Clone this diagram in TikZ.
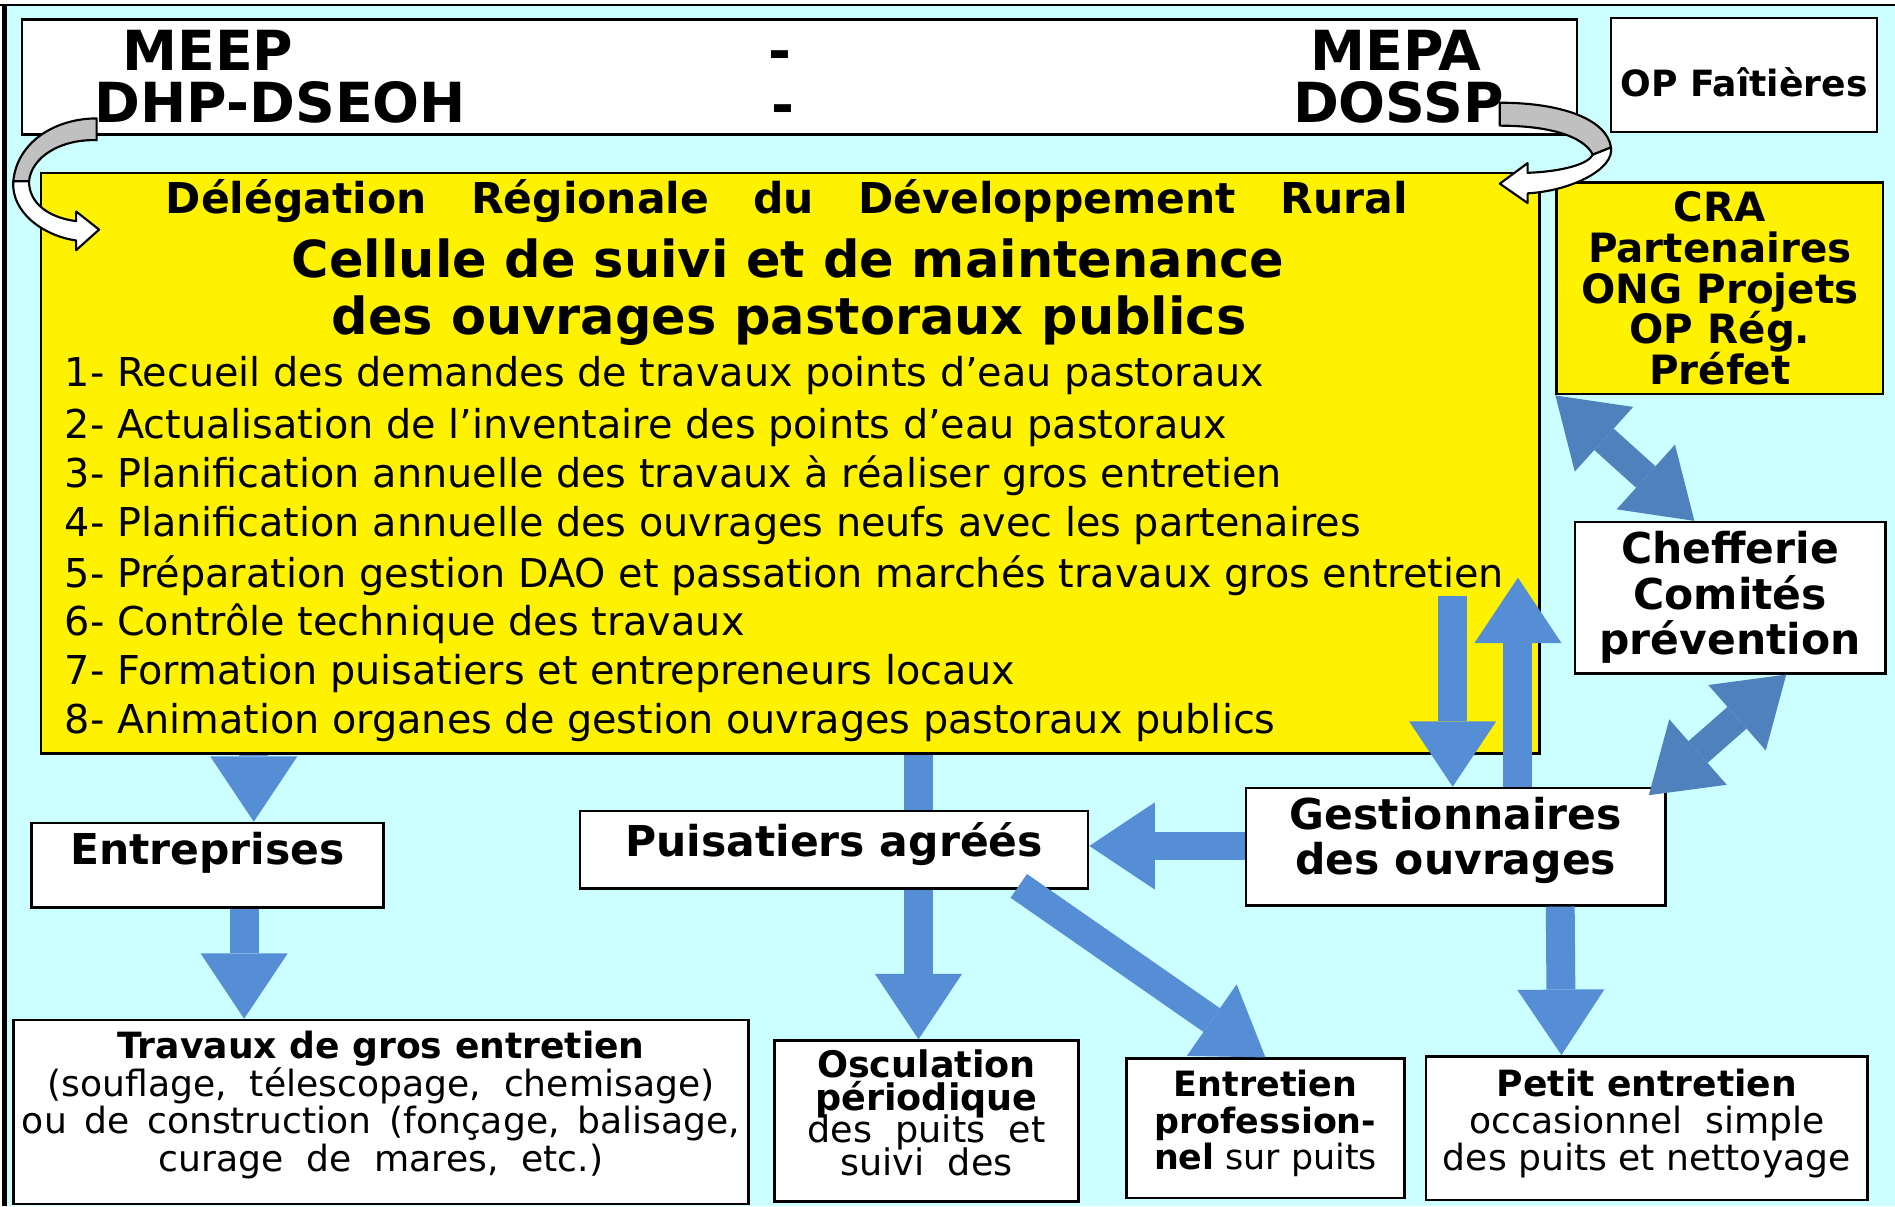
\documentclass[tikz,border=0pt]{standalone}
\usepackage{fontspec}
\setmainfont{DejaVu Sans}
\usepackage{tikz}
\usetikzlibrary{arrows.meta, calc}
\definecolor{fond}{HTML}{CCFFFF}
\definecolor{bleu}{HTML}{558ED5}
\definecolor{bleuf}{HTML}{4F81BD}
\definecolor{gris}{HTML}{C0C0C0}
\lineskiplimit=-20pt

\begin{document}
\begin{tikzpicture}[x=0.01cm, y=-0.01cm,
    box/.style={draw, line width=0.6pt, fill=white, inner sep=0pt, align=center},
    jbox/.style={box, fill=yellow},
    big/.style={font=\fontsize{13}{15}\selectfont\bfseries},
    ttl/.style={font=\fontsize{12}{14}\selectfont\bfseries},
    itm/.style={anchor=west, inner sep=0pt, font=\fontsize{9.35}{11}\selectfont},
    fl/.style={draw=bleu, line width=6.8pt,
      -{Triangle[length=15.4pt, width=20.5pt, line width=0pt]}},
    fll/.style={draw=bleuf, line width=6.8pt,
      {Triangle[length=15.4pt, width=20.5pt, line width=0pt]}-{Triangle[length=15.4pt, width=20.5pt, line width=0pt]}},
    cbe/.style={draw=black, line width=0.5pt, line join=round}]

  \useasboundingbox (0,0) rectangle (1568,998);
  \fill[fond] (3,4) rectangle (1568,998);
  \draw[line width=0.6pt] (0,4) -- (1568,4);
  \draw[line width=1.1pt] (4,4) -- (4,998);

  \node[box, minimum width=12.86cm, minimum height=0.95cm, anchor=north west] (mn) at (17,15) {};
  \node[big] (meep) at (172,42) {MEEP};
  \node[big] (t1) at (645,50) {-};
  \node[big] (mepa) at (1155,42) {MEPA};
  \node[big] (dhp) at (232,85) {DHP-DSEOH};
  \node[big] (t2) at (648,95) {-};
  \node[big] (dossp) at (1157,85) {DOSSP};

  \node[box, minimum width=2.20cm, minimum height=0.94cm, anchor=north west, text height=10pt,
    font=\fontsize{8.5}{10}\selectfont\bfseries] (opf) at (1332,14) {OP Faîtières};

  \node[jbox, minimum width=12.39cm, minimum height=4.80cm, anchor=north west] (cel) at (33,142) {};
  \node[font=\fontsize{10}{12}\selectfont\bfseries] (drdr) at (651,166)
    {\hbox to 10.27cm{Délégation\hfill Régionale\hfill du\hfill Développement\hfill Rural}};
  \node[ttl] (csm) at (652,214) {Cellule de suivi et de maintenance};
  \node[ttl] (dop) at (653,265) {des ouvrages pastoraux publics};
  \node[itm] (i1) at (53,311) {1- Recueil des demandes de travaux points d'eau pastoraux};
  \node[itm] (i2) at (53,354) {2- Actualisation de l'inventaire des points d'eau pastoraux};
  \node[itm] (i3) at (53,394) {3- Planification annuelle des travaux à réaliser gros entretien};
  \node[itm] (i4) at (53,435) {4- Planification annuelle des ouvrages neufs avec les partenaires};
  \node[itm] (i5) at (53,476) {5- Préparation gestion DAO et passation marchés travaux gros entretien};
  \node[itm] (i6) at (53,516) {6- Contrôle technique des travaux};
  \node[itm] (i7) at (53,557) {7- Formation puisatiers et entrepreneurs locaux};
  \node[itm] (i8) at (53,598) {8- Animation organes de gestion ouvrages pastoraux publics};

  \node[jbox, minimum width=2.70cm, minimum height=1.75cm, anchor=north west,
    font=\fontsize{9.5}{9.6}\selectfont\bfseries] (cra) at (1287,150)
    {CRA\\Partenaires\\ONG Projets\\OP Rég.\\Préfet};
  \node[box, minimum width=2.57cm, minimum height=1.25cm, anchor=north west,
    font=\fontsize{10}{10.7}\selectfont\bfseries] (chef) at (1302,431)
    {Chefferie\\Comités\\prévention};
  \node[box, minimum width=3.47cm, minimum height=0.97cm, anchor=north west, text depth=5pt,
    font=\fontsize{10}{10.5}\selectfont\bfseries] (gest) at (1030,651)
    {Gestionnaires\\des ouvrages};
  \node[box, minimum width=2.91cm, minimum height=0.70cm, anchor=north west, text depth=8pt,
    font=\fontsize{10}{12}\selectfont\bfseries] (entr) at (25,680) {Entreprises};
  \node[box, minimum width=6.08cm, minimum height=1.52cm, anchor=north west, text depth=5pt,
    font=\fontsize{8.5}{8.8}\selectfont] (trav) at (10,843)
    {\textbf{Travaux de gros entretien}\\(souflage,\ \ télescopage,\ \ chemisage)\\ou\,\ de\,\ construction\,\ (fonçage,\,\ balisage,\\curage\ \ de\ \ mares,\ \ etc.)};
  \node[box, minimum width=2.51cm, minimum height=1.33cm, anchor=north west, text depth=4pt,
    font=\fontsize{8.6}{7.7}\selectfont] (osc) at (640,860)
    {\textbf{Osculation}\\\textbf{périodique}\\des\ \ puits\ \ et\\suivi\ \ des};
  \node[box, minimum width=2.30cm, minimum height=1.15cm, anchor=north west, text depth=4pt,
    font=\fontsize{8.2}{8.7}\selectfont] (entp) at (931,875)
    {\textbf{Entretien}\\\textbf{profession-}\\\textbf{nel} sur puits};
  \node[box, minimum width=3.65cm, minimum height=1.19cm, anchor=north west, text depth=4pt,
    font=\fontsize{8.5}{8.7}\selectfont] (pet) at (1179,873)
    {\textbf{Petit entretien}\\occasionnel\ \ simple\\des puits et nettoyage};

  \draw[fl] (cel.south -| 760,0) -- (osc.north -| 760,0);

  \node[box, minimum width=4.20cm, minimum height=0.64cm, anchor=north west, text depth=5pt,
    font=\fontsize{10}{12}\selectfont\bfseries] (puis) at (479,670) {Puisatiers agréés};

  \draw[fl] (cel.south -| 210,0) -- (entr.north -| 210,0);
  \draw[fl] (entr.south -| 202,0) -- (trav.north -| 202,0);
  \draw[fl] (gest.west |- 0,700) -- (puis.east |- 0,700);
  \draw[fl] (843,733) -- (entp.north);
  \draw[fl] (gest.south -| 1291,0) -- (pet.north -| 1292,0);
  \draw[fl] (i5.south -| 1202,0) -- (gest.north -| 1202,0);
  \draw[fl] (gest.north -| 1256,0) -- (1256,478);
  \draw[fll] (cra.south west) -- (chef.north -| 1402,0);
  \draw[fll] (chef.south -| 1478,0) -- ([xshift=-0.15cm, yshift=-0.07cm]gest.north east);

  \fill[gris, cbe] (80,98) .. controls (45,98) and (14,118) .. (11,150)
    -- (24,150) .. controls (26,130) and (50,115) .. (80,116) -- cycle;
  \fill[white, cbe] (11,150) .. controls (9,175) and (35,195) .. (63,199)
    -- (63,207) -- (82,190) -- (63,175) -- (63,183)
    .. controls (40,180) and (24,168) .. (24,150) -- cycle;

  \fill[gris, cbe] (1241,85) .. controls (1295,85) and (1330,100) .. (1333,122)
    -- (1318,128) .. controls (1310,112) and (1280,104) .. (1241,104) -- cycle;
  \fill[white, cbe] (1333,122) .. controls (1336,140) and (1300,158) .. (1264,160)
    -- (1264,168) -- (1241,152) -- (1264,135) -- (1264,143)
    .. controls (1292,142) and (1314,136) .. (1318,128) -- cycle;
\end{tikzpicture}
\end{document}
